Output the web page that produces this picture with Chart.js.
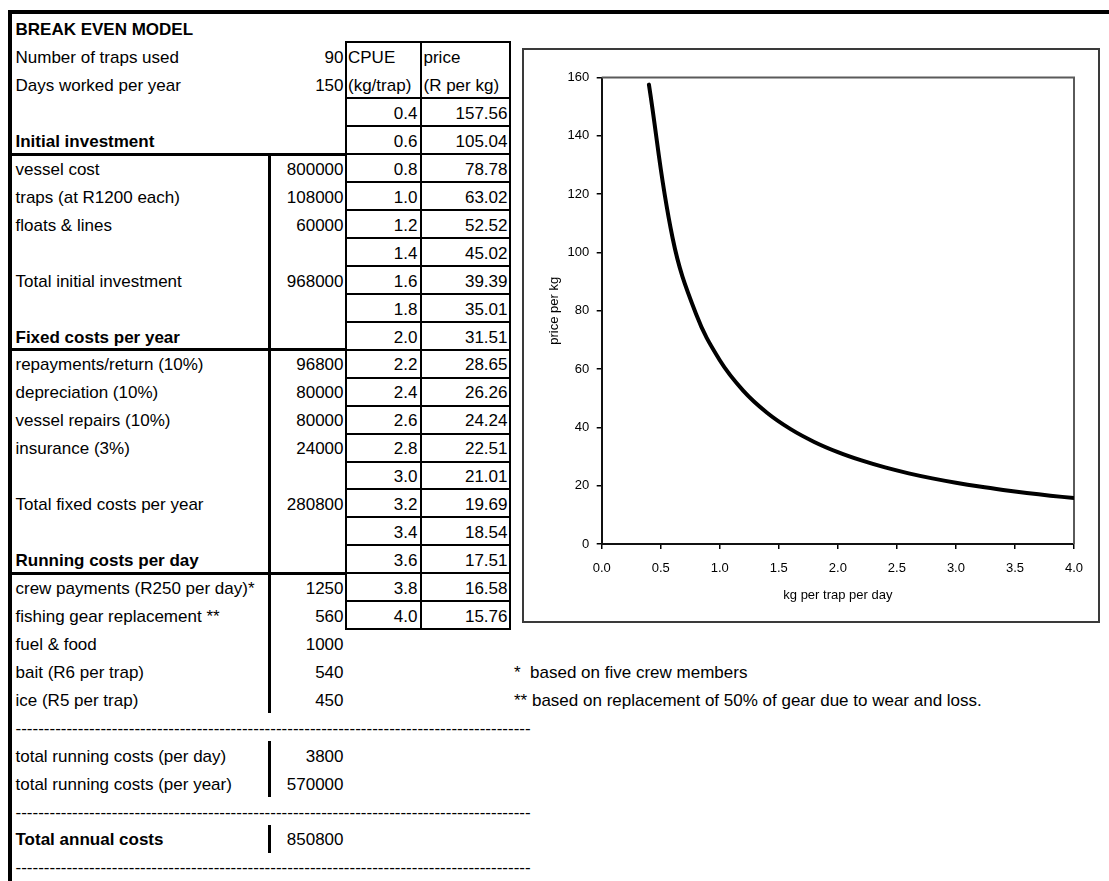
<!DOCTYPE html>
<html>
<head>
<meta charset="utf-8">
<script src="https://cdn.jsdelivr.net/npm/chart.js@4.4.1/dist/chart.umd.min.js"></script>
<style>
html,body{margin:0;padding:0;background:#fff;}
body{width:1109px;height:881px;position:relative;overflow:hidden;font-family:"Liberation Sans",Arial,sans-serif;font-size:17px;color:#000;}
.t{position:absolute;white-space:pre;line-height:20px;height:20px;}
.r{text-align:right;}
.b{font-weight:bold;}
.ln{position:absolute;background:#000;}
#chartBox{position:absolute;left:522px;top:48px;width:574px;height:571px;border:2px solid #3a3a3a;}
#chartBox canvas{position:absolute;left:0;top:0;}
</style>
</head>
<body>
<div id="sheet"></div>
<div id="chartBox"><canvas id="c" width="574" height="571"></canvas></div>
<script>
// ---------- data ----------
const cpue  = [0.4,0.6,0.8,1.0,1.2,1.4,1.6,1.8,2.0,2.2,2.4,2.6,2.8,3.0,3.2,3.4,3.6,3.8,4.0];
const price = [157.56,105.04,78.78,63.02,52.52,45.02,39.39,35.01,31.51,28.65,26.26,24.24,22.51,21.01,19.69,18.54,17.51,16.58,15.76];
const xTicks = [0,0.5,1.0,1.5,2.0,2.5,3.0,3.5,4.0];
const yTicks = [0,20,40,60,80,100,120,140,160];
const xTitle = "kg per trap per day";
const yTitle = "price per kg";

const DASHES = "-".repeat(91);
const labelsA = [
  "BREAK EVEN MODEL","Number of traps used","Days worked per year","","Initial investment",
  "vessel cost","traps (at R1200 each)","floats & lines","","Total initial investment",
  "","Fixed costs per year","repayments/return (10%)","depreciation (10%)","vessel repairs (10%)",
  "insurance (3%)","","Total fixed costs per year","","Running costs per day",
  "crew payments (R250 per day)*","fishing gear replacement **","fuel & food","bait (R6 per trap)","ice (R5 per trap)",
  DASHES,"total running costs (per day)","total running costs (per year)",DASHES,"Total annual costs",DASHES
];
const valuesB = [
  "","90","150","","",
  "800000","108000","60000","","968000",
  "","","96800","80000","80000",
  "24000","","280800","","",
  "1250","560","1000","540","450",
  "","3800","570000","","850800",""
];
const boldRows = [0,4,11,19,29];
const headC = ["CPUE","(kg/trap)"];
const headD = ["price","(R per kg)"];
const cpueStartRow = 3;
const footnotes = [[23,"*  based on five crew members"],[24,"** based on replacement of 50% of gear due to wear and loss."]];

// ---------- sheet ----------
const sheet = document.getElementById('sheet');
const RT = i => 14.5 + i*27.94;
function txt(s, left, row, cls, width){
  const d = document.createElement('div');
  d.className = 't ' + (cls||'');
  d.textContent = s;
  d.style.left = left + 'px';
  d.style.top = (RT(row) + 5.7) + 'px';
  if (width) d.style.width = width + 'px';
  sheet.appendChild(d);
}
function ln(l,t,w,h){
  const d = document.createElement('div');
  d.className='ln';
  d.style.left=l+'px'; d.style.top=t+'px'; d.style.width=w+'px'; d.style.height=h+'px';
  sheet.appendChild(d);
}
labelsA.forEach((s,i)=>{ if(s) txt(s, 15.5, i, boldRows.includes(i)?'b':''); });
valuesB.forEach((s,i)=>{ if(s) txt(s, 272, i, 'r', 71.5); });
headC.forEach((s,i)=>txt(s, 348, 1+i, ''));
headD.forEach((s,i)=>txt(s, 423.5, 1+i, ''));
cpue.forEach((v,i)=>{
  txt(v.toFixed(1), 347, cpueStartRow+i, 'r', 70.5);
  txt(price[i].toFixed(2), 422, cpueStartRow+i, 'r', 85.5);
});
footnotes.forEach(([r,s])=>txt(s, 514, r, ''));

// outer border
ln(8,10,1101,3.5);
ln(8,10,3.5,871);
// thick horizontals A/B
[5,12,20].forEach(r=>ln(10, RT(r)-1.5, 336, 3));
// thick vertical A/B
ln(268.2, RT(5), 3, RT(25)-RT(5));
ln(268.2, RT(26), 3, RT(28)-RT(26));
ln(268.2, RT(29), 3, RT(30)-RT(29));
// CPUE / price box
const boxTop = RT(1), boxBot = RT(cpueStartRow + cpue.length);
[344.5, 419.7, 509].forEach(x=>ln(x, boxTop-1, 2, boxBot-boxTop+2));
const hr = [1]; for(let r=cpueStartRow;r<=cpueStartRow+cpue.length;r++) hr.push(r);
hr.forEach(r=>ln(344.5, RT(r)-1, 166.5, 2));

// ---------- chart ----------
function hasFont(name){
  const c=document.createElement('canvas').getContext('2d');
  const s='abcdefghijklmnopqrstuvwxyz0123456789 ABC';
  c.font='16px monospace'; const a=c.measureText(s).width;
  c.font='16px "'+name+'", monospace'; const b=c.measureText(s).width;
  return Math.abs(a-b)>0.5;
}
const narrow = hasFont('Liberation Sans Narrow');
const F = narrow ? {family:'"Liberation Sans Narrow", "Liberation Sans", Arial, sans-serif', size:16, lineHeight:1.2}
                 : {family:'"Liberation Sans", Arial, sans-serif', size:13, lineHeight:1.2};
const LH = F.size*1.2;

const W=574, H=571;
const area = {left:77.7, right:550, top:27.5, bottom:494};

const frame = {
  id:'frame',
  beforeDatasetsDraw(chart){
    const {ctx, chartArea:a} = chart;
    ctx.save();
    ctx.strokeStyle='#5a5a5a'; ctx.lineWidth=2;
    ctx.beginPath(); ctx.moveTo(a.left,a.top); ctx.lineTo(a.right,a.top); ctx.lineTo(a.right,a.bottom); ctx.stroke();
    ctx.restore();
  }
};

const gridOpt = {drawOnChartArea:false, drawTicks:true, tickLength:5, color:'#000', lineWidth:1.5};
const borderOpt = {display:true, color:'#111', width:2};

new Chart(document.getElementById('c'), {
  type:'line',
  data:{datasets:[{
    data: cpue.map((x,i)=>({x:x, y:price[i]})),
    borderColor:'#000', borderWidth:4, pointRadius:0, tension:0.4,
    fill:false, borderCapStyle:'round', borderJoinStyle:'round'
  }]},
  options:{
    responsive:false, maintainAspectRatio:false, animation:false, devicePixelRatio:1,
    layout:{padding:{left:0, right:W-area.right, top:area.top, bottom:0}},
    plugins:{legend:{display:false}, tooltip:{enabled:false}},
    scales:{
      x:{type:'linear', min:0, max:4,
        afterBuildTicks:s=>{s.ticks = xTicks.map(v=>({value:v}));},
        ticks:{callback:v=>Number(v).toFixed(1), font:F, color:'#000', padding:518-area.bottom-5-LH/2, maxRotation:0, autoSkip:false},
        grid:gridOpt, border:borderOpt,
        title:{display:true, text:xTitle, font:F, color:'#000', padding:{top:0, bottom:H-545-LH/2}},
        afterFit:s=>{s.height = H-area.bottom;}
      },
      y:{type:'linear', min:0, max:160,
        afterBuildTicks:s=>{s.ticks = yTicks.map(v=>({value:v}));},
        ticks:{font:F, color:'#000', padding:7.4},
        grid:gridOpt, border:borderOpt,
        title:{display:true, text:yTitle, font:F, color:'#000', padding:{top:30-LH/2, bottom:0}},
        afterFit:s=>{s.width = area.left;}
      }
    }
  },
  plugins:[frame]
});
</script>
</body>
</html>
